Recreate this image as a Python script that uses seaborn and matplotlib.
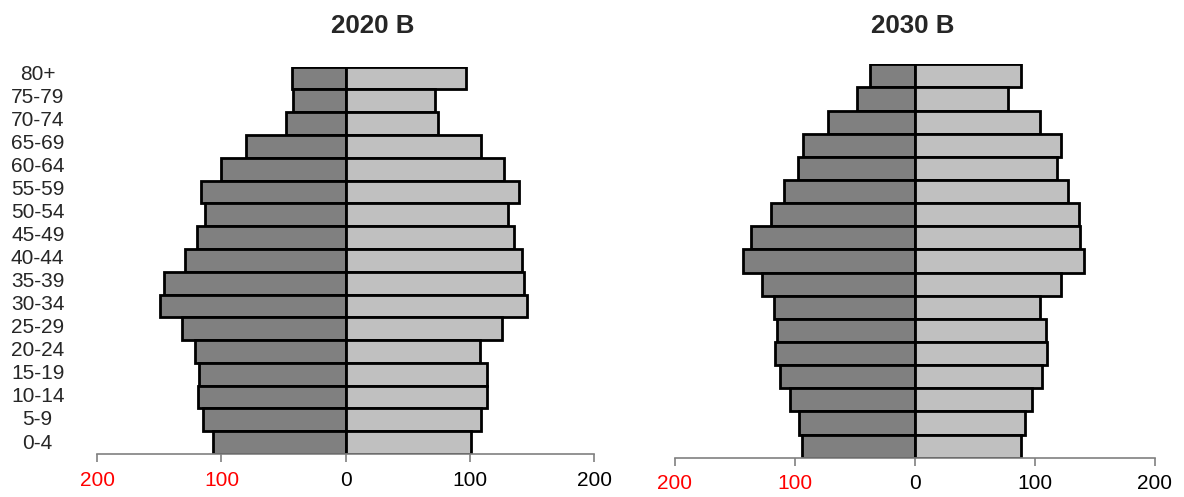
import numpy as np
import pandas as pd
import matplotlib
matplotlib.use("Agg")
import matplotlib.pyplot as plt
import seaborn as sns

sns.set_style("white")
plt.rcParams["font.family"] = ["Liberation Sans", "DejaVu Sans"]

age_groups = ["80+", "75-79", "70-74", "65-69", "60-64", "55-59", "50-54", "45-49",
              "40-44", "35-39", "30-34", "25-29", "20-24", "15-19", "10-14", "5-9", "0-4"]

male_2020 = [43.5, 42.6, 47.8, 80.6, 100.6, 116.7, 113.0, 119.8, 129.0, 146.0, 149.7,
             131.8, 121.0, 118.2, 118.8, 115.1, 107.1]
female_2020 = [96.6, 72.2, 74.7, 109.3, 127.5, 139.8, 130.6, 135.5, 142.3, 143.5, 145.7,
               125.6, 108.0, 113.6, 113.6, 109.3, 101.2]

male_2030 = [37.3, 48.1, 72.4, 93.2, 97.8, 108.7, 120.2, 137.0, 143.5, 127.6, 117.4,
             115.2, 116.5, 112.1, 104.3, 96.9, 94.1]
female_2030 = [88.8, 77.6, 104.0, 121.7, 118.6, 128.0, 137.0, 137.9, 141.0, 122.0, 104.7,
               109.6, 110.0, 105.9, 97.8, 91.9, 88.8]

x_ticks = [-200, -100, 0, 100, 200]
x_tick_labels = ["200", "100", "0", "100", "200"]
titles = ["2020 B", "2030 B"]

W, H = 1184, 497
fig = plt.figure(figsize=(W / 100, H / 100), dpi=100)

def px_axes(x0, x1, ytop, ybot):
    return fig.add_axes([x0 / W, 1 - ybot / H, (x1 - x0) / W, (ybot - ytop) / H])

ax1 = px_axes(97.3, 594.0, 66.7, 454.0)
ax2 = px_axes(675.0, 1154.7, 64.3, 457.7)

dark = "#808080"
light = "#C0C0C0"

def draw(ax, male, female, show_labels, title, title_x):
    df = pd.DataFrame({"age": age_groups,
                       "male": -np.array(male),
                       "female": np.array(female)})
    sns.barplot(data=df, x="male", y="age", order=age_groups, orient="h",
                color=dark, saturation=1, width=1.0, edgecolor="black",
                linewidth=2, errorbar=None, ax=ax)
    sns.barplot(data=df, x="female", y="age", order=age_groups, orient="h",
                color=light, saturation=1, width=1.0, edgecolor="black",
                linewidth=2, errorbar=None, ax=ax)
    ax.set_xlim(-200, 200)
    ax.set_ylim(len(age_groups) - 0.5, -0.5)
    ax.set_xlabel("")
    ax.set_ylabel("")
    for s in ["top", "right", "left"]:
        ax.spines[s].set_visible(False)
    ax.spines["bottom"].set_color("#808080")
    ax.spines["bottom"].set_linewidth(1.2)
    ax.set_xticks(x_ticks)
    ax.set_xticklabels(x_tick_labels, fontsize=15)
    ax.tick_params(axis="x", direction="out", length=6, width=1.2,
                   color="#808080", pad=6, bottom=True)
    for i, lab in enumerate(ax.get_xticklabels()):
        lab.set_color("red" if x_ticks[i] < 0 else "black")
    ax.tick_params(axis="y", length=0)
    if show_labels:
        # label rows are spaced slightly wider than the bar rows in the original
        ax.set_yticks(np.linspace(-0.245, len(age_groups) - 1.07, len(age_groups)))
        ax.set_yticklabels(age_groups, fontsize=15, ha="center")
        ax.tick_params(axis="y", pad=0)
        for lab in ax.get_yticklabels():
            lab.set_x(-0.12)
    else:
        ax.set_yticks([])
    ax.text(title_x, 1.0 - 33 / H, title, transform=fig.transFigure,
            ha="center", va="baseline", fontsize=18.6, fontweight="bold")

draw(ax1, male_2020, female_2020, True, titles[0], 373 / W)
draw(ax2, male_2030, female_2030, False, titles[1], 912.3 / W)

fig.savefig("out.png", dpi=100)
